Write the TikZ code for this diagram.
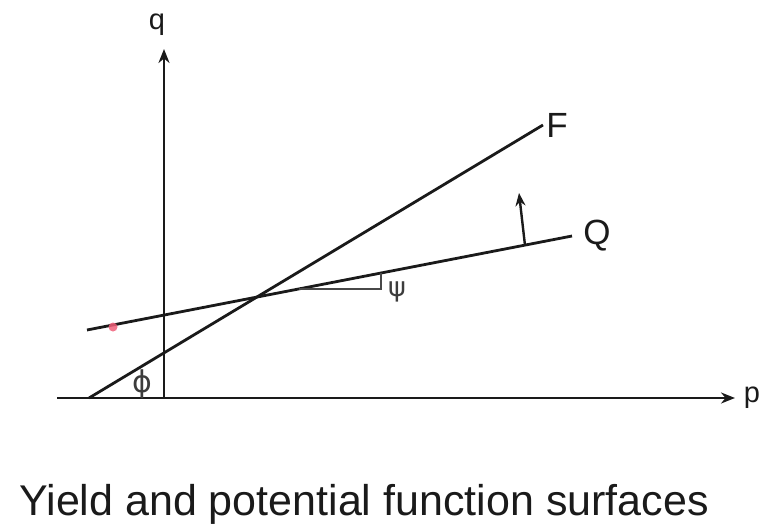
\documentclass[tikz,border=0pt]{standalone}
\usepackage{fontspec}
\setmainfont{Liberation Sans}
\newfontfamily\greekfont{DejaVu Sans}
\usetikzlibrary{arrows.meta,calc}
\definecolor{inkgrey}{HTML}{1A1A1A}
\definecolor{dotpink}{HTML}{F0607A}
\tikzset{
  >={Stealth[length=14pt,width=11pt]},
  axis/.style={->,line width=2.8pt,draw=inkgrey},
  surf/.style={line width=2.8pt,draw=inkgrey},
  thin/.style={line width=2pt,draw=inkgrey!80},
  lbl/.style={inner sep=0pt,text=inkgrey,font=\fontsize{35}{40}\selectfont},
  axlbl/.style={inner sep=0pt,text=inkgrey,font=\fontsize{29}{34}\selectfont},
  grk/.style={inner sep=0pt,text=inkgrey!85,font=\greekfont\fontsize{27}{32}\selectfont},
  caption/.style={inner sep=0pt,text=inkgrey,font=\fontsize{43}{50}\selectfont},
}
\begin{document}
\begin{tikzpicture}[x=1pt,y=-1pt]
  \useasboundingbox (0,0) rectangle (759,526);
  % axes
  \coordinate (pstart) at (57,398);
  \coordinate (ptip) at (735,398);
  \coordinate (qfoot) at (164,398);
  \coordinate (qtip) at (164,49);
  \node[axlbl] (p) at (752,398) {p};
  \node[axlbl] (q) at (157,25) {q};
  \draw[axis] (pstart) -- (ptip);
  \draw[axis] (qfoot) -- (qtip);

  % yield surface F and potential surface Q
  \coordinate (fs) at (89,398);
  \coordinate (fe) at (543,125);
  \coordinate (qs) at (87,330);
  \coordinate (qe) at (572,236);
  \node[lbl] (F) at (557,125) {F};
  \node[lbl] (Q) at (597,236) {Q};
  \draw[surf] (fs) -- (fe);
  \draw[surf] (qs) -- (qe);

  % dilation angle and flow direction
  \coordinate (psia) at (299,289);
  \coordinate (psib) at (381,289);
  \coordinate (psic) at (381,273);
  \draw[thin] (psia) -- (psib) -- (psic);
  \node[grk] (psi) at (397,292) {ψ};
  \coordinate (n0) at ($(qs)!0.903!(qe)$);
  \coordinate (n1) at (519,193);
  \draw[->,line width=2.4pt,draw=inkgrey,>={Stealth[length=13pt,width=10pt]}] (n0) -- (n1);

  % friction angle
  \node[grk,font=\greekfont\fontsize{30}{34}\selectfont] (phi) at (142,384) {ϕ};

  \fill[dotpink,opacity=0.85] (113,327) circle (4.5);

  \node[caption,anchor=base] (cap) at (364,515) {Yield and potential function surfaces};
\end{tikzpicture}
\end{document}
